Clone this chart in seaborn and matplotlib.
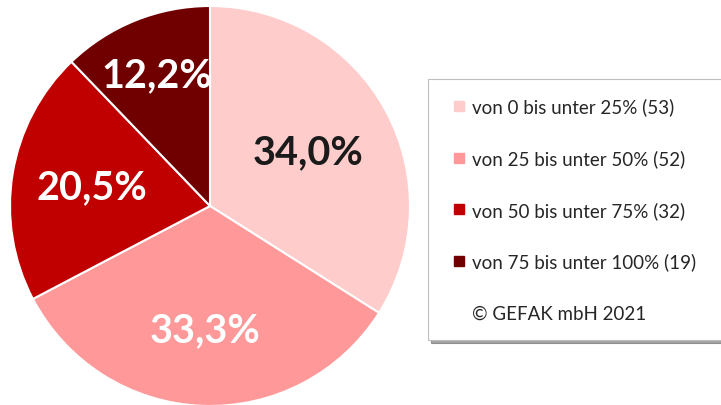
import numpy as np
import matplotlib.pyplot as plt
from matplotlib.lines import Line2D
import seaborn as sns

categories = ["von 0 bis unter 25%", "von 25 bis unter 50%",
              "von 50 bis unter 75%", "von 75 bis unter 100%"]
counts = [53, 52, 32, 19]
colors = ["#FFCCCC", "#FF9999", "#C00000", "#700000"]
label_colors = ["#1a1a1a", "white", "white", "white"]
label_dist = [0.56, 0.62, 0.60, 0.71]
copyright_text = "© GEFAK mbH 2021"

sns.set_theme(style="white")
plt.rcParams["font.family"] = ["Lato", "DejaVu Sans"]

fig = plt.figure(figsize=(7.21, 4.06), dpi=100)
ax = fig.add_axes([10 / 721, -1 / 406, 400 / 721, 400 / 406])

wedges, _ = ax.pie(counts, colors=colors, startangle=90, counterclock=False,
                   wedgeprops=dict(edgecolor="white", linewidth=1.5))
ax.set_xlim(-1, 1)
ax.set_ylim(-1, 1)
ax.set_aspect("equal")
ax.axis("off")

total = sum(counts)
for w, c, col, d in zip(wedges, counts, label_colors, label_dist):
    ang = np.deg2rad((w.theta1 + w.theta2) / 2)
    pct = f"{100 * c / total:.1f}%".replace(".", ",")
    ax.text(d * np.cos(ang), d * np.sin(ang), pct, ha="center", va="center",
            fontsize=28.5, fontweight="bold", color=col)

handles = [Line2D([], [], ls="none", marker="s", markersize=6.5,
                  markerfacecolor=col, markeredgecolor=col) for col in colors]
handles.append(Line2D([], [], ls="none"))
labels = [f"{cat} ({n})" for cat, n in zip(categories, counts)] + [copyright_text]

leg = fig.legend(handles, labels, loc="upper left",
                 bbox_to_anchor=(428 / 721, 1 - 80 / 406, 0.45, 0), mode="expand",
                 fontsize=13.5, frameon=True, fancybox=False, shadow=True,
                 edgecolor="#bfbfbf", handlelength=1.3, handleheight=0.7,
                 handletextpad=0.05, labelspacing=1.8, borderpad=1.0,
                 borderaxespad=0)
leg.get_frame().set_linewidth(0.8)

fig.savefig("out.png", dpi=100)
